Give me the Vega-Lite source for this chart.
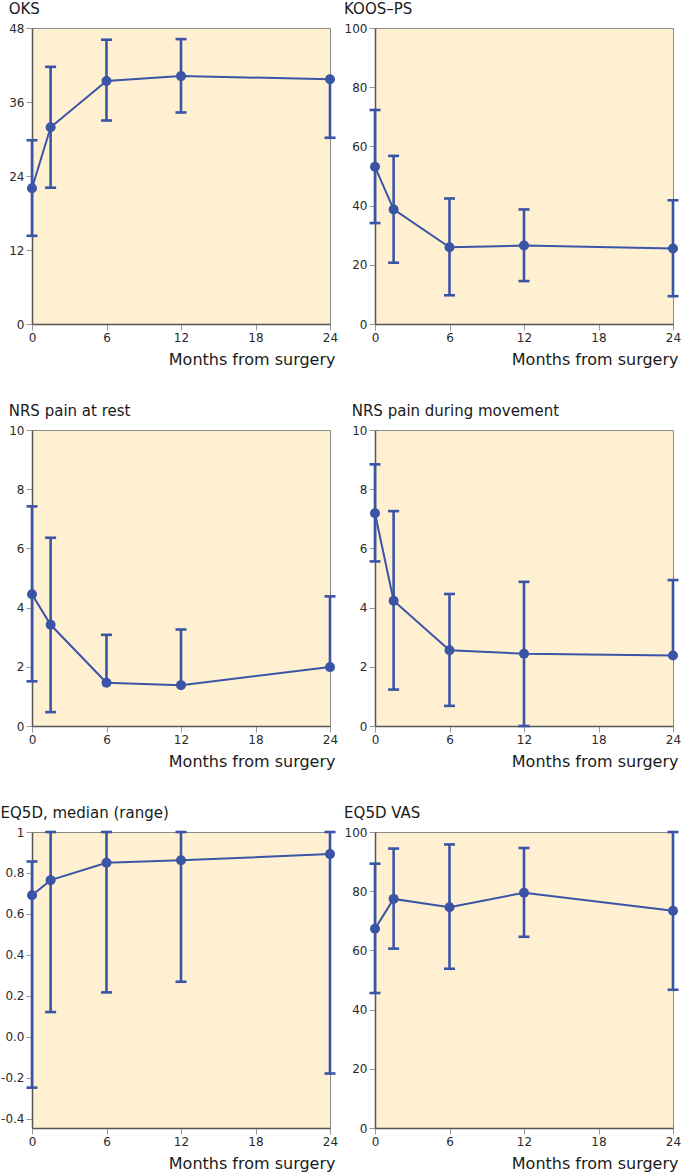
{
  "$schema": "https://vega.github.io/schema/vega-lite/v6.json",
  "padding": {"left": 0, "top": 1, "right": 0, "bottom": 0},
  "background": "white",
  "datasets": {
    "oks": [
      {"month": 0, "mean": 22.0, "hi": 29.8, "lo": 14.3},
      {"month": 1.5, "mean": 31.9, "hi": 41.7, "lo": 22.1},
      {"month": 6, "mean": 39.4, "hi": 46.1, "lo": 33.0},
      {"month": 12, "mean": 40.2, "hi": 46.2, "lo": 34.3},
      {"month": 24, "mean": 39.7, "hi": null, "lo": 30.2}
    ],
    "koos": [
      {"month": 0, "mean": 53.1, "hi": 72.3, "lo": 34.1},
      {"month": 1.5, "mean": 38.7, "hi": 56.8, "lo": 20.7},
      {"month": 6, "mean": 25.9, "hi": 42.4, "lo": 9.7},
      {"month": 12, "mean": 26.5, "hi": 38.7, "lo": 14.5},
      {"month": 24, "mean": 25.5, "hi": 41.8, "lo": 9.4}
    ],
    "nrsr": [
      {"month": 0, "mean": 4.45, "hi": 7.42, "lo": 1.51},
      {"month": 1.5, "mean": 3.42, "hi": 6.36, "lo": 0.47},
      {"month": 6, "mean": 1.46, "hi": 3.08, "lo": null},
      {"month": 12, "mean": 1.38, "hi": 3.26, "lo": null},
      {"month": 24, "mean": 1.99, "hi": 4.38, "lo": null}
    ],
    "nrsm": [
      {"month": 0, "mean": 7.19, "hi": 8.84, "lo": 5.56},
      {"month": 1.5, "mean": 4.23, "hi": 7.26, "lo": 1.23},
      {"month": 6, "mean": 2.56, "hi": 4.46, "lo": 0.68},
      {"month": 12, "mean": 2.44, "hi": 4.87, "lo": 0.0},
      {"month": 24, "mean": 2.38, "hi": 4.93, "lo": null}
    ],
    "eq5d": [
      {"month": 0, "mean": 0.691, "hi": 0.856, "lo": -0.248},
      {"month": 1.5, "mean": 0.765, "hi": 1.0, "lo": 0.121},
      {"month": 6, "mean": 0.85, "hi": 1.0, "lo": 0.217},
      {"month": 12, "mean": 0.862, "hi": 1.0, "lo": 0.269},
      {"month": 24, "mean": 0.892, "hi": 1.0, "lo": -0.179}
    ],
    "vas": [
      {"month": 0, "mean": 67.3, "hi": 89.3, "lo": 45.6},
      {"month": 1.5, "mean": 77.4, "hi": 94.4, "lo": 60.6},
      {"month": 6, "mean": 74.6, "hi": 95.8, "lo": 53.8},
      {"month": 12, "mean": 79.5, "hi": 94.6, "lo": 64.6},
      {"month": 24, "mean": 73.4, "hi": 100, "lo": 46.7}
    ]
  },
  "columns": 2,
  "bounds": "flush",
  "spacing": {"row": 106, "column": 45},
  "concat": [
    {
      "title": {"text": "OKS"},
      "width": 298, "height": 296,
      "data": {"name": "oks"},
      "encoding": {
        "x": {"field": "month", "type": "quantitative", "scale": {"domain": [0, 24], "nice": false}, "axis": {"values": [0, 6, 12, 18, 24], "title": "Months from surgery"}},
        "y": {"field": "mean", "type": "quantitative", "title": null, "scale": {"domain": [0, 48], "nice": false, "zero": false}, "axis": {"values": [0, 12, 24, 36, 48]}}
      },
      "layer": [
        {"transform": [{"filter": {"field": "hi", "valid": true}}], "mark": {"type": "rule", "color": "#3a54a6", "strokeWidth": 2.6}, "encoding": {"y2": {"field": "hi"}}},
        {"transform": [{"filter": {"field": "lo", "valid": true}}], "mark": {"type": "rule", "color": "#3a54a6", "strokeWidth": 2.6}, "encoding": {"y2": {"field": "lo"}}},
        {"transform": [{"filter": {"field": "hi", "valid": true}}], "mark": {"type": "tick", "orient": "horizontal", "size": 11, "thickness": 2.6, "color": "#3a54a6", "opacity": 1}, "encoding": {"y": {"field": "hi", "type": "quantitative", "title": null}}},
        {"transform": [{"filter": {"field": "lo", "valid": true}}], "mark": {"type": "tick", "orient": "horizontal", "size": 11, "thickness": 2.6, "color": "#3a54a6", "opacity": 1}, "encoding": {"y": {"field": "lo", "type": "quantitative", "title": null}}},
        {"mark": {"type": "line", "color": "#3a54a6", "strokeWidth": 2}},
        {"mark": {"type": "point", "filled": true, "size": 100, "color": "#3a54a6", "opacity": 1}}
      ]
    },
    {
      "title": {"text": "KOOS–PS"},
      "width": 298, "height": 296,
      "data": {"name": "koos"},
      "encoding": {
        "x": {"field": "month", "type": "quantitative", "scale": {"domain": [0, 24], "nice": false}, "axis": {"values": [0, 6, 12, 18, 24], "title": "Months from surgery"}},
        "y": {"field": "mean", "type": "quantitative", "title": null, "scale": {"domain": [0, 100], "nice": false, "zero": false}, "axis": {"values": [0, 20, 40, 60, 80, 100]}}
      },
      "layer": [
        {"transform": [{"filter": {"field": "hi", "valid": true}}], "mark": {"type": "rule", "color": "#3a54a6", "strokeWidth": 2.6}, "encoding": {"y2": {"field": "hi"}}},
        {"transform": [{"filter": {"field": "lo", "valid": true}}], "mark": {"type": "rule", "color": "#3a54a6", "strokeWidth": 2.6}, "encoding": {"y2": {"field": "lo"}}},
        {"transform": [{"filter": {"field": "hi", "valid": true}}], "mark": {"type": "tick", "orient": "horizontal", "size": 11, "thickness": 2.6, "color": "#3a54a6", "opacity": 1}, "encoding": {"y": {"field": "hi", "type": "quantitative", "title": null}}},
        {"transform": [{"filter": {"field": "lo", "valid": true}}], "mark": {"type": "tick", "orient": "horizontal", "size": 11, "thickness": 2.6, "color": "#3a54a6", "opacity": 1}, "encoding": {"y": {"field": "lo", "type": "quantitative", "title": null}}},
        {"mark": {"type": "line", "color": "#3a54a6", "strokeWidth": 2}},
        {"mark": {"type": "point", "filled": true, "size": 100, "color": "#3a54a6", "opacity": 1}}
      ]
    },
    {
      "title": {"text": "NRS pain at rest"},
      "width": 298, "height": 296,
      "data": {"name": "nrsr"},
      "encoding": {
        "x": {"field": "month", "type": "quantitative", "scale": {"domain": [0, 24], "nice": false}, "axis": {"values": [0, 6, 12, 18, 24], "title": "Months from surgery"}},
        "y": {"field": "mean", "type": "quantitative", "title": null, "scale": {"domain": [0, 10], "nice": false, "zero": false}, "axis": {"values": [0, 2, 4, 6, 8, 10]}}
      },
      "layer": [
        {"transform": [{"filter": {"field": "hi", "valid": true}}], "mark": {"type": "rule", "color": "#3a54a6", "strokeWidth": 2.6}, "encoding": {"y2": {"field": "hi"}}},
        {"transform": [{"filter": {"field": "lo", "valid": true}}], "mark": {"type": "rule", "color": "#3a54a6", "strokeWidth": 2.6}, "encoding": {"y2": {"field": "lo"}}},
        {"transform": [{"filter": {"field": "hi", "valid": true}}], "mark": {"type": "tick", "orient": "horizontal", "size": 11, "thickness": 2.6, "color": "#3a54a6", "opacity": 1}, "encoding": {"y": {"field": "hi", "type": "quantitative", "title": null}}},
        {"transform": [{"filter": {"field": "lo", "valid": true}}], "mark": {"type": "tick", "orient": "horizontal", "size": 11, "thickness": 2.6, "color": "#3a54a6", "opacity": 1}, "encoding": {"y": {"field": "lo", "type": "quantitative", "title": null}}},
        {"mark": {"type": "line", "color": "#3a54a6", "strokeWidth": 2}},
        {"mark": {"type": "point", "filled": true, "size": 100, "color": "#3a54a6", "opacity": 1}}
      ]
    },
    {
      "title": {"text": "NRS pain during movement"},
      "width": 298, "height": 296,
      "data": {"name": "nrsm"},
      "encoding": {
        "x": {"field": "month", "type": "quantitative", "scale": {"domain": [0, 24], "nice": false}, "axis": {"values": [0, 6, 12, 18, 24], "title": "Months from surgery"}},
        "y": {"field": "mean", "type": "quantitative", "title": null, "scale": {"domain": [0, 10], "nice": false, "zero": false}, "axis": {"values": [0, 2, 4, 6, 8, 10]}}
      },
      "layer": [
        {"transform": [{"filter": {"field": "hi", "valid": true}}], "mark": {"type": "rule", "color": "#3a54a6", "strokeWidth": 2.6}, "encoding": {"y2": {"field": "hi"}}},
        {"transform": [{"filter": {"field": "lo", "valid": true}}], "mark": {"type": "rule", "color": "#3a54a6", "strokeWidth": 2.6}, "encoding": {"y2": {"field": "lo"}}},
        {"transform": [{"filter": {"field": "hi", "valid": true}}], "mark": {"type": "tick", "orient": "horizontal", "size": 11, "thickness": 2.6, "color": "#3a54a6", "opacity": 1}, "encoding": {"y": {"field": "hi", "type": "quantitative", "title": null}}},
        {"transform": [{"filter": {"field": "lo", "valid": true}}], "mark": {"type": "tick", "orient": "horizontal", "size": 11, "thickness": 2.6, "color": "#3a54a6", "opacity": 1}, "encoding": {"y": {"field": "lo", "type": "quantitative", "title": null}}},
        {"mark": {"type": "line", "color": "#3a54a6", "strokeWidth": 2}},
        {"mark": {"type": "point", "filled": true, "size": 100, "color": "#3a54a6", "opacity": 1}}
      ]
    },
    {
      "title": {"text": "EQ5D, median (range)"},
      "width": 298, "height": 296,
      "data": {"name": "eq5d"},
      "encoding": {
        "x": {"field": "month", "type": "quantitative", "scale": {"domain": [0, 24], "nice": false}, "axis": {"values": [0, 6, 12, 18, 24], "title": "Months from surgery"}},
        "y": {"field": "mean", "type": "quantitative", "title": null, "scale": {"domain": [-0.445, 1], "nice": false, "zero": false}, "axis": {"values": [-0.4, -0.2, 0, 0.2, 0.4, 0.6, 0.8, 1], "labelExpr": "datum.value == 1 ? '1' : (datum.value < 0 ? '-' + format(-datum.value, '.1f') : format(datum.value, '.1f'))"}}
      },
      "layer": [
        {"transform": [{"filter": {"field": "hi", "valid": true}}], "mark": {"type": "rule", "color": "#3a54a6", "strokeWidth": 2.6}, "encoding": {"y2": {"field": "hi"}}},
        {"transform": [{"filter": {"field": "lo", "valid": true}}], "mark": {"type": "rule", "color": "#3a54a6", "strokeWidth": 2.6}, "encoding": {"y2": {"field": "lo"}}},
        {"transform": [{"filter": {"field": "hi", "valid": true}}], "mark": {"type": "tick", "orient": "horizontal", "size": 11, "thickness": 2.6, "color": "#3a54a6", "opacity": 1}, "encoding": {"y": {"field": "hi", "type": "quantitative", "title": null}}},
        {"transform": [{"filter": {"field": "lo", "valid": true}}], "mark": {"type": "tick", "orient": "horizontal", "size": 11, "thickness": 2.6, "color": "#3a54a6", "opacity": 1}, "encoding": {"y": {"field": "lo", "type": "quantitative", "title": null}}},
        {"mark": {"type": "line", "color": "#3a54a6", "strokeWidth": 2}},
        {"mark": {"type": "point", "filled": true, "size": 100, "color": "#3a54a6", "opacity": 1}}
      ]
    },
    {
      "title": {"text": "EQ5D VAS"},
      "width": 298, "height": 296,
      "data": {"name": "vas"},
      "encoding": {
        "x": {"field": "month", "type": "quantitative", "scale": {"domain": [0, 24], "nice": false}, "axis": {"values": [0, 6, 12, 18, 24], "title": "Months from surgery"}},
        "y": {"field": "mean", "type": "quantitative", "title": null, "scale": {"domain": [0, 100], "nice": false, "zero": false}, "axis": {"values": [0, 20, 40, 60, 80, 100]}}
      },
      "layer": [
        {"transform": [{"filter": {"field": "hi", "valid": true}}], "mark": {"type": "rule", "color": "#3a54a6", "strokeWidth": 2.6}, "encoding": {"y2": {"field": "hi"}}},
        {"transform": [{"filter": {"field": "lo", "valid": true}}], "mark": {"type": "rule", "color": "#3a54a6", "strokeWidth": 2.6}, "encoding": {"y2": {"field": "lo"}}},
        {"transform": [{"filter": {"field": "hi", "valid": true}}], "mark": {"type": "tick", "orient": "horizontal", "size": 11, "thickness": 2.6, "color": "#3a54a6", "opacity": 1}, "encoding": {"y": {"field": "hi", "type": "quantitative", "title": null}}},
        {"transform": [{"filter": {"field": "lo", "valid": true}}], "mark": {"type": "tick", "orient": "horizontal", "size": 11, "thickness": 2.6, "color": "#3a54a6", "opacity": 1}, "encoding": {"y": {"field": "lo", "type": "quantitative", "title": null}}},
        {"mark": {"type": "line", "color": "#3a54a6", "strokeWidth": 2}},
        {"mark": {"type": "point", "filled": true, "size": 100, "color": "#3a54a6", "opacity": 1}}
      ]
    }
  ],
  "config": {
    "font": "DejaVu Sans",
    "view": {"fill": "#fef0d0", "stroke": "#8a8a8a", "strokeWidth": 1},
    "axis": {
      "grid": false,
      "domainColor": "#555555",
      "domainWidth": 1.5,
      "tickColor": "#999999",
      "tickSize": 6,
      "labelFont": "DejaVu Sans",
      "labelFontSize": 12,
      "labelColor": "#2a2a2a",
      "labelFlush": false,
      "labelOverlap": false,
      "labelPadding": 2,
      "titleFont": "DejaVu Sans",
      "titleFontSize": 16,
      "titleFontWeight": "normal",
      "titleColor": "#1a1a1a"
    },
    "axisX": {"titleAnchor": "end", "titleAlign": "right", "titleX": 303, "titlePadding": 8},
    "title": {"anchor": "start", "font": "DejaVu Sans", "fontSize": 15, "fontWeight": "normal", "color": "#1a1a1a", "offset": 5}
  }
}
